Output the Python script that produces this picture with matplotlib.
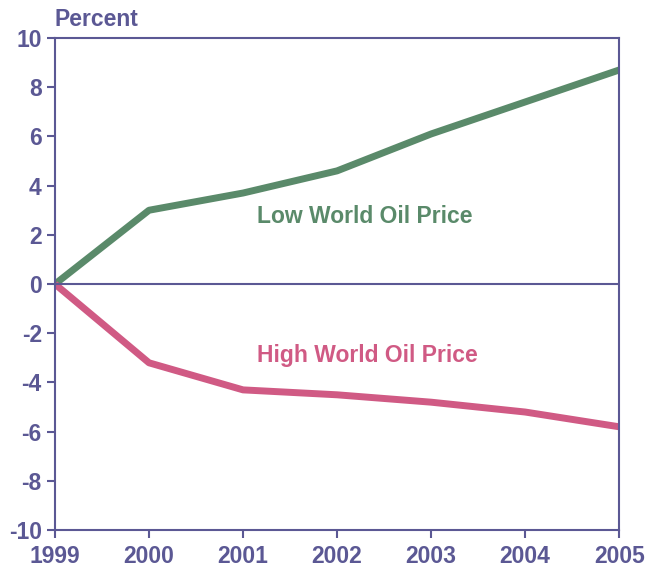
import matplotlib
matplotlib.use("Agg")
import matplotlib.pyplot as plt

years = [1999, 2000, 2001, 2002, 2003, 2004, 2005]
low_price = [0, 3.0, 3.7, 4.6, 6.1, 7.4, 8.7]
high_price = [0, -3.2, -4.3, -4.5, -4.8, -5.2, -5.8]

purple = "#5b5894"
green = "#5a8a6a"
pink = "#d05a84"

plt.rcParams["font.family"] = ["Liberation Sans", "DejaVu Sans"]
plt.rcParams["font.weight"] = "bold"
plt.rcParams["axes.unicode_minus"] = False

fig = plt.figure(figsize=(6.47, 5.67), dpi=100)
ax = fig.add_axes([0.085, 0.065, 0.872, 0.868])

ax.plot(years, low_price, color=green, lw=5, solid_capstyle="butt")
ax.plot(years, high_price, color=pink, lw=5, solid_capstyle="butt")
ax.axhline(0, color=purple, lw=1.5)

ax.text(2001.15, 2.75, "Low World Oil Price", color=green, fontsize=16.5,
        fontweight="bold", va="center")
ax.text(2001.15, -2.9, "High World Oil Price", color=pink, fontsize=16.5,
        fontweight="bold", va="center")

ax.set_xlim(1999, 2005)
ax.set_ylim(-10, 10)
ax.set_xticks(years)
ax.set_yticks(range(-10, 11, 2))
for s in ax.spines.values():
    s.set_color(purple)
    s.set_linewidth(1.5)
ax.tick_params(colors=purple, labelsize=16.5, width=1.5, length=6, direction="out")
ax.tick_params(axis="x", pad=5)
for lbl in ax.get_xticklabels() + ax.get_yticklabels():
    lbl.set_fontweight("bold")

fig.text(0.085, 0.965, "Percent", color=purple, fontsize=16.5,
         fontweight="bold", va="center")

fig.savefig("out.png", dpi=100)
